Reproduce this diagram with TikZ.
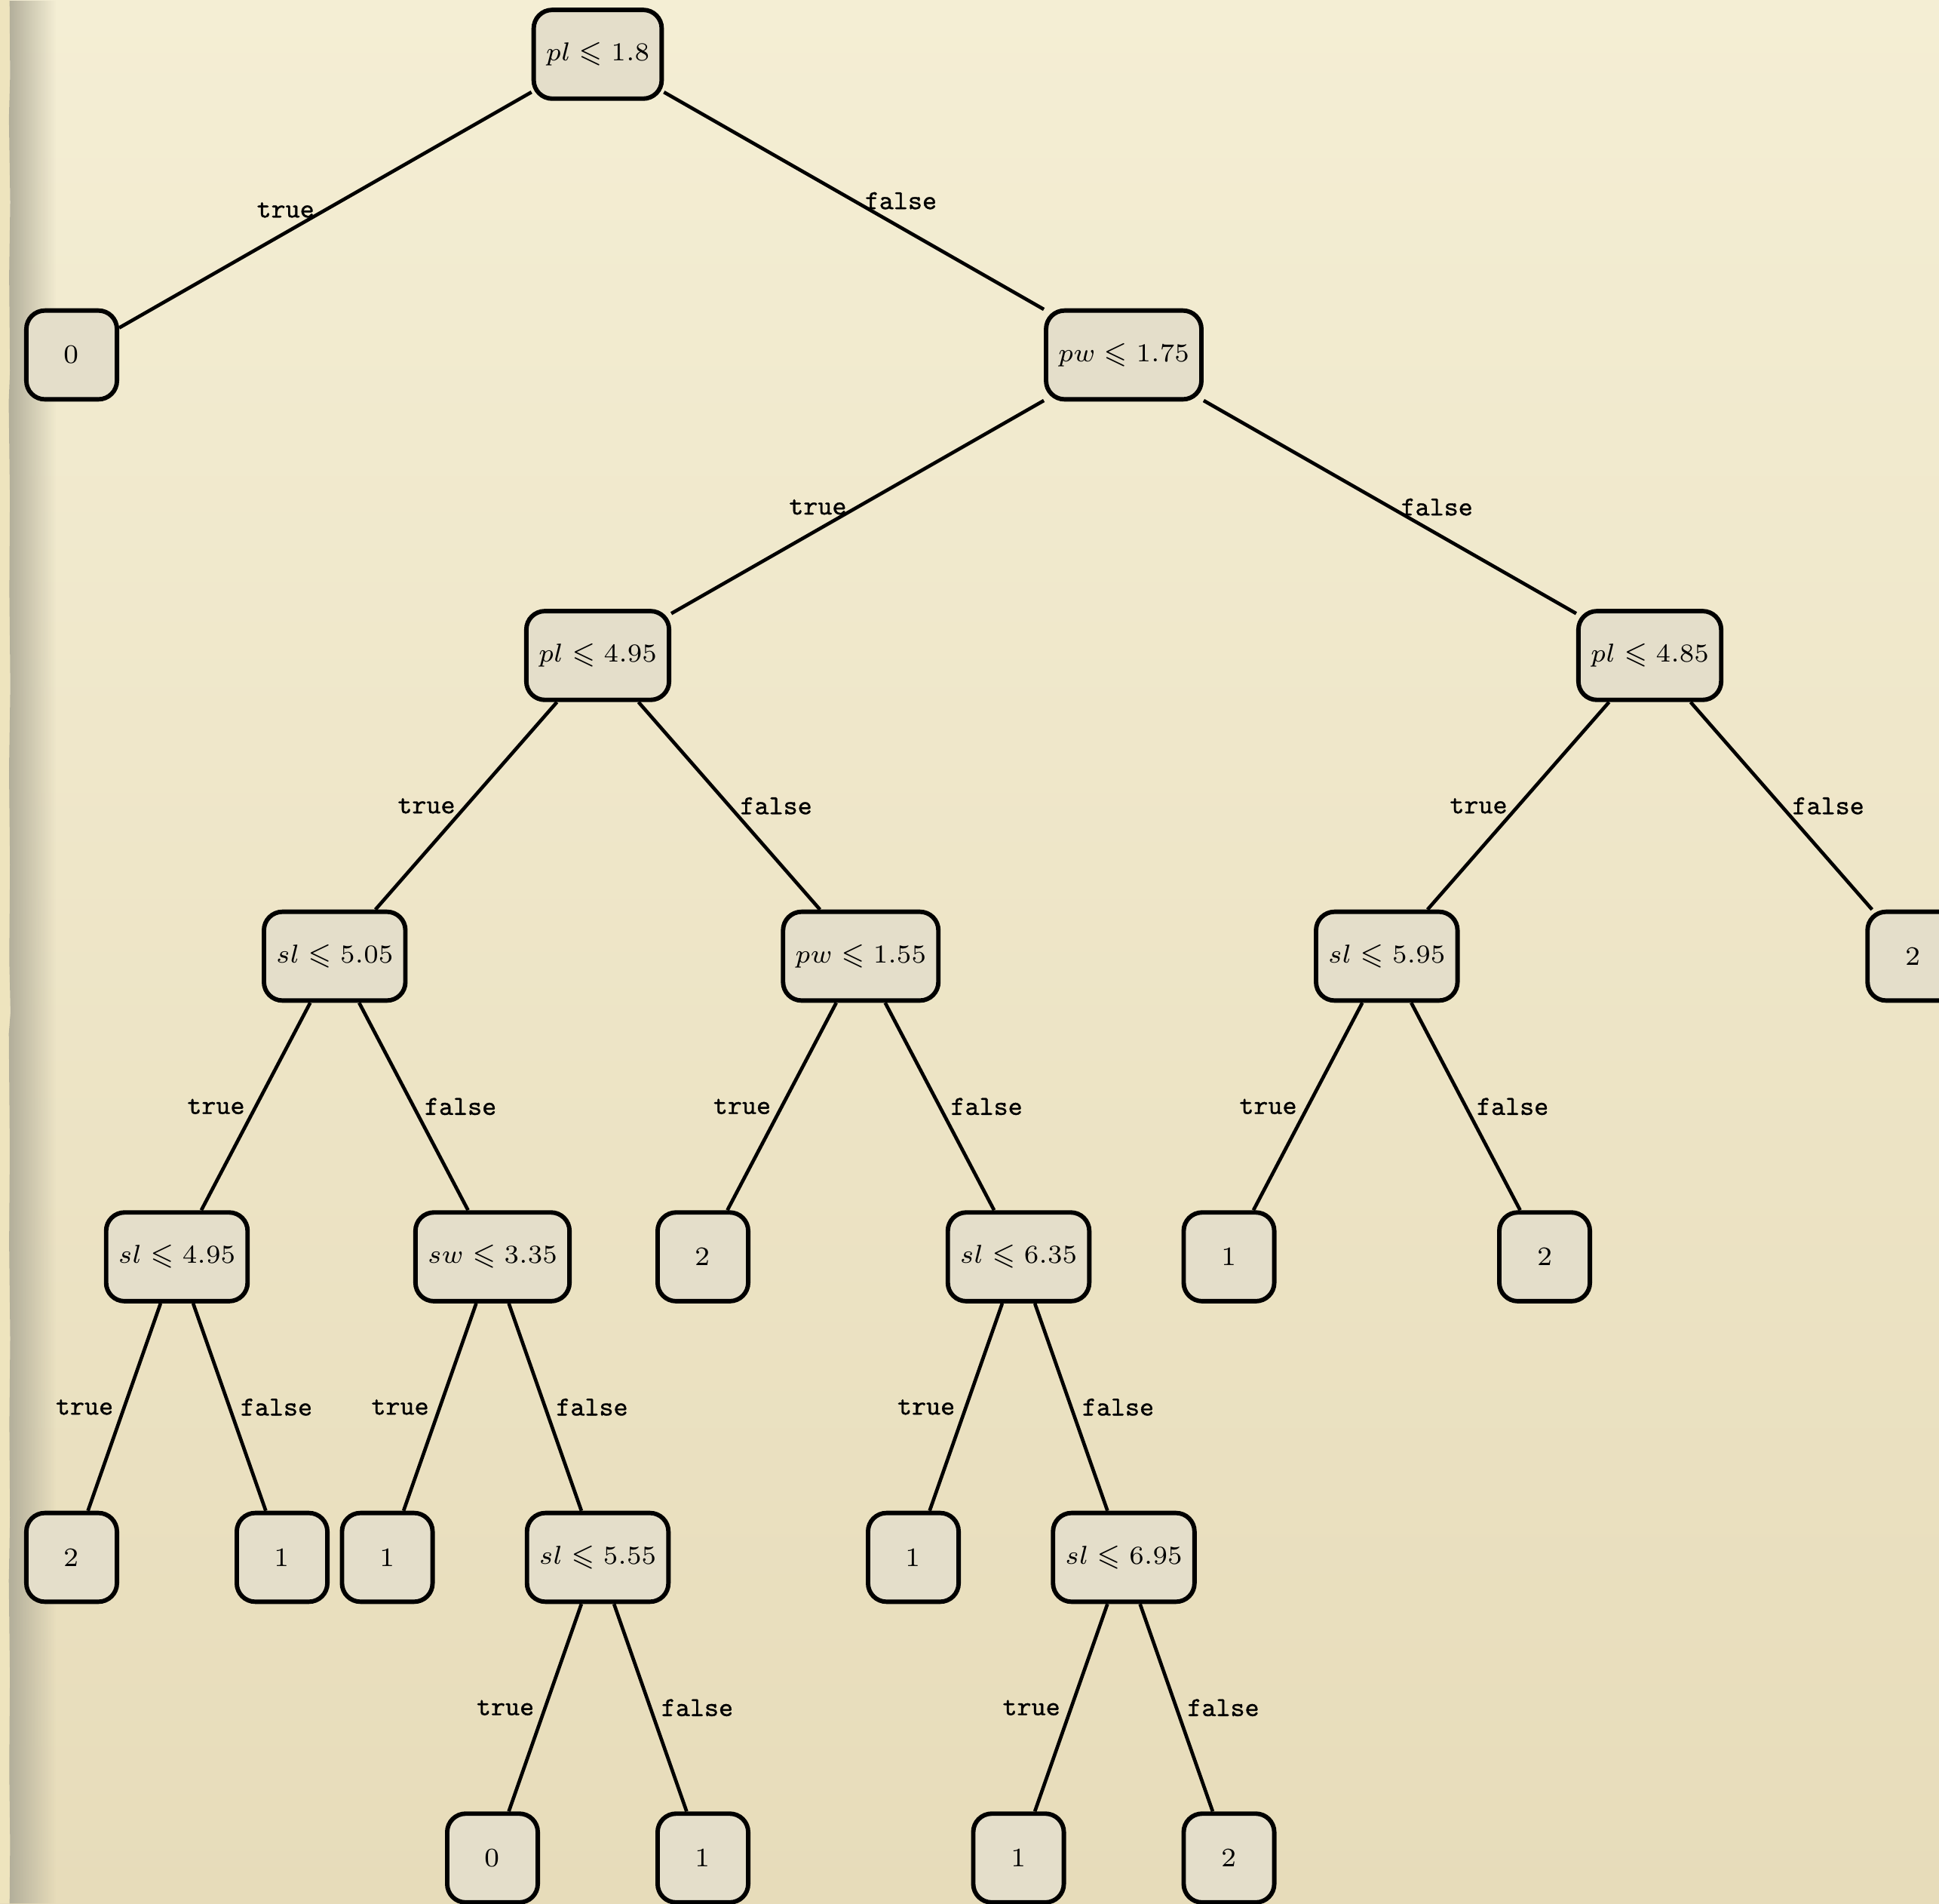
\documentclass[tikz,border=0pt]{standalone}
\usepackage{amssymb}
\usepackage{fontspec}
\newfontfamily\edgefont{lmmono10-regular}[Extension=.otf, FakeBold=0.9]
\usetikzlibrary{fadings}

\definecolor{papertop}{RGB}{244,238,212}
\definecolor{paperbot}{RGB}{231,220,186}
\definecolor{paperedge}{RGB}{238,228,190}
\definecolor{boxfill}{RGB}{228,222,202}
\definecolor{edgeshadow}{RGB}{178,174,154}

\tikzset{
  test/.style={draw=black, line width=1.2pt, rounded corners=5pt, fill=boxfill,
    minimum height=24pt, minimum width=24.5pt, inner xsep=3.3pt,
    font=\fontsize{7.2}{8.7}\selectfont},
  leaf/.style={test},
  branch/.style={line width=0.95pt},
  yes/.style={midway, left, inner sep=2.5pt, font=\edgefont\fontsize{7.4}{9}\selectfont},
  no/.style={midway, right, inner sep=2.5pt, font=\edgefont\fontsize{7.4}{9}\selectfont},
}

\begin{document}
\begin{tikzpicture}
  % paper background
  \useasboundingbox (-0.681,0.516) rectangle (17.749,-17.570);
  \shade[top color=papertop, bottom color=paperbot] (-0.681,0.516) rectangle (17.749,-17.570);
  % strip of the sheet underneath, and the shadow of the torn edge
  \fill[paperedge] (-0.681,0.516) rectangle (-0.588,-17.570);
  \fill[edgeshadow, path fading=east]
    (-0.590,0.516) -- (-0.585,-0.2) -- (-0.596,-0.6) -- (-0.584,-1.4) -- (-0.594,-2.1)
    -- (-0.586,-3.0) -- (-0.598,-3.3) -- (-0.587,-4.2) -- (-0.592,-5.1) -- (-0.583,-6.0)
    -- (-0.595,-6.8) -- (-0.586,-7.7) -- (-0.593,-8.6) -- (-0.581,-9.1) -- (-0.597,-9.3)
    -- (-0.588,-10.4) -- (-0.594,-11.3) -- (-0.584,-12.2) -- (-0.592,-13.0) -- (-0.586,-13.9)
    -- (-0.597,-14.5) -- (-0.587,-15.4) -- (-0.593,-16.3) -- (-0.585,-17.0) -- (-0.590,-17.570)
    -- (-0.150,-17.570) -- (-0.150,0.516) -- cycle;

  % level 0
  \node[test] (n1) at (5,0) {$pl \leqslant 1.8$};
  % level 1
  \node[leaf] (l0a) at (0,-2.857) {0};
  \node[test] (n2) at (10,-2.857) {$pw \leqslant 1.75$};
  % level 2
  \node[test] (n3) at (5,-5.713) {$pl \leqslant 4.95$};
  \node[test] (n4) at (15,-5.713) {$pl \leqslant 4.85$};
  % level 3
  \node[test] (n5) at (2.5,-8.570) {$sl \leqslant 5.05$};
  \node[test] (n6) at (7.5,-8.570) {$pw \leqslant 1.55$};
  \node[test] (n7) at (12.5,-8.570) {$sl \leqslant 5.95$};
  \node[leaf] (l2a) at (17.5,-8.570) {2};
  % level 4
  \node[test] (n8) at (1,-11.427) {$sl \leqslant 4.95$};
  \node[test] (n9) at (4,-11.427) {$sw \leqslant 3.35$};
  \node[leaf] (l2b) at (6,-11.427) {2};
  \node[test] (n10) at (9,-11.427) {$sl \leqslant 6.35$};
  \node[leaf] (l1a) at (11,-11.427) {1};
  \node[leaf] (l2c) at (14,-11.427) {2};
  % level 5
  \node[leaf] (l2d) at (0,-14.283) {2};
  \node[leaf] (l1b) at (2,-14.283) {1};
  \node[leaf] (l1c) at (3,-14.283) {1};
  \node[test] (n11) at (5,-14.283) {$sl \leqslant 5.55$};
  \node[leaf] (l1d) at (8,-14.283) {1};
  \node[test] (n12) at (10,-14.283) {$sl \leqslant 6.95$};
  % level 6
  \node[leaf] (l0b) at (4,-17.140) {0};
  \node[leaf] (l1e) at (6,-17.140) {1};
  \node[leaf] (l1f) at (9,-17.140) {1};
  \node[leaf] (l2e) at (11,-17.140) {2};

  % branches
  \draw[branch] (n1) -- node[yes] {true} (l0a);
  \draw[branch] (n1) -- node[no] {false} (n2);
  \draw[branch] (n2) -- node[yes] {true} (n3);
  \draw[branch] (n2) -- node[no] {false} (n4);
  \draw[branch] (n3) -- node[yes] {true} (n5);
  \draw[branch] (n3) -- node[no] {false} (n6);
  \draw[branch] (n4) -- node[yes] {true} (n7);
  \draw[branch] (n4) -- node[no] {false} (l2a);
  \draw[branch] (n5) -- node[yes] {true} (n8);
  \draw[branch] (n5) -- node[no] {false} (n9);
  \draw[branch] (n6) -- node[yes] {true} (l2b);
  \draw[branch] (n6) -- node[no] {false} (n10);
  \draw[branch] (n7) -- node[yes] {true} (l1a);
  \draw[branch] (n7) -- node[no] {false} (l2c);
  \draw[branch] (n8) -- node[yes] {true} (l2d);
  \draw[branch] (n8) -- node[no] {false} (l1b);
  \draw[branch] (n9) -- node[yes] {true} (l1c);
  \draw[branch] (n9) -- node[no] {false} (n11);
  \draw[branch] (n10) -- node[yes] {true} (l1d);
  \draw[branch] (n10) -- node[no] {false} (n12);
  \draw[branch] (n11) -- node[yes] {true} (l0b);
  \draw[branch] (n11) -- node[no] {false} (l1e);
  \draw[branch] (n12) -- node[yes] {true} (l1f);
  \draw[branch] (n12) -- node[no] {false} (l2e);
\end{tikzpicture}
\end{document}
